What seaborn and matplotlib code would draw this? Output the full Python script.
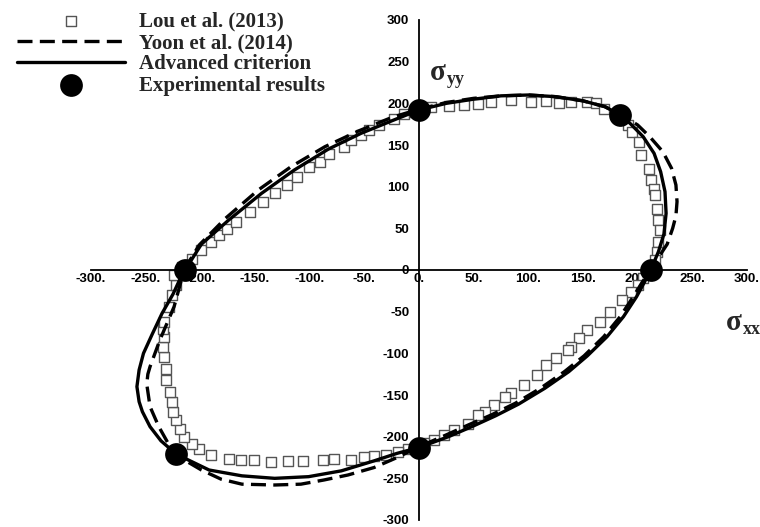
import numpy as np
import pandas as pd
import matplotlib
matplotlib.use("Agg")
import matplotlib.pyplot as plt
import seaborn as sns
from matplotlib.ticker import MultipleLocator, FuncFormatter

# ---------------- data ----------------
lou_x = [-217, -208, -199, -190, -183, -176, -167, -155, -143, -132, -121, -112, -101, -91, -82, -69, -62, -53, -46, -37, -23, -14, -5,
         11, 27, 41, 54, 66, 84, 102, 116, 128, 139, 154, 162, 169,
         191, 195, 201, 203, 210, 212, 215, 216, 218, 219, 220, 219, 218, 216,
         205, 200, 194, 186, 175, 166, 154, 146, 139, 136, 125, 116, 108, 96, 84, 79, 69, 60, 54, 45, 32, 23, 14, 5,
         -10, -19, -30, -41, -50, -62, -78, -88, -106, -120, -135, -151, -163, -174, -190, -201, -208,
         -215, -219, -222, -225, -226, -228, -231, -231, -233, -234, -233, -234, -233, -229, -226, -222, -224]
lou_y = [4, 13, 24, 34, 42, 49, 58, 70, 82, 92, 102, 112, 124, 130, 139, 148, 156, 162, 168, 174, 181, 187, 190,
         196, 197, 198, 199, 202, 204, 202, 203, 200, 202, 202, 200, 193,
         174, 166, 154, 138, 121, 108, 97, 90, 73, 60, 48, 34, 22, 12,
         -10, -18, -26, -36, -50, -62, -72, -82, -92, -96, -106, -114, -126, -138, -148, -152, -162, -170, -174, -185, -192, -198, -204, -208,
         -215, -218, -222, -223, -224, -228, -227, -228, -229, -229, -230, -228, -228, -227, -222, -215, -209,
         -200, -191, -180, -170, -158, -146, -132, -119, -104, -92, -80, -71, -62, -44, -30, -18, -6]

yoon_x = [-215, -201, -177, -147, -117, -86, -55, -25, 0,
          25, 50, 75, 100, 125, 150, 170, 184,
          200, 211, 223, 231, 235, 236, 235, 232, 227, 221, 214, 212,
          204, 196, 184, 169, 151, 133, 111, 88, 66, 45, 23, 0,
          -20, -41, -65, -87, -108, -132, -162, -181, -199, -212, -220,
          -229, -238, -246, -249, -248, -246, -237, -224, -219, -215]
yoon_y = [0, 30, 62, 96, 124, 148, 167, 183, 193,
          201, 206, 209, 210, 208, 203, 196, 187,
          174, 160, 142, 122, 102, 82, 65, 50, 31, 19, 5, 0,
          -15, -32, -56, -80, -103, -122, -142, -160, -174, -186, -199, -212,
          -225, -237, -246, -252, -257, -258, -257, -251, -240, -230, -221,
          -209, -188, -164, -137, -125, -116, -84, -44, -20, 0]

adv_x = [-214, -199, -174, -144, -114, -83, -53, -23, 0,
         25, 50, 75, 100, 125, 150, 170, 184,
         193, 205, 215, 221, 225, 226, 224, 219, 212,
         206, 199, 187, 172, 154, 137, 115, 91, 70, 50, 27, 0,
         -20, -41, -71, -101, -132, -162, -192, -222,
         -236, -246, -253, -256, -258, -256, -252, -244, -235, -225, -219, -214]
adv_y = [0, 31, 60, 92, 120, 145, 164, 180, 192,
         200, 205, 209, 210, 208, 203, 196, 186,
         176, 160, 140, 118, 94, 68, 43, 22, 0,
         -15, -32, -56, -80, -103, -122, -142, -161, -175, -187, -200, -213,
         -220, -229, -241, -248, -250, -247, -240, -221,
         -205, -188, -170, -158, -140, -120, -100, -77, -52, -29, -12, 0]

exp_x = [0, 184, 212, -214, -222, 0]
exp_y = [192, 186, 0, 0, -221, -213]

ticks = list(range(-300, 301, 50))

lou = pd.DataFrame({"x": lou_x, "y": lou_y})
yoon = pd.DataFrame({"x": yoon_x, "y": yoon_y})
adv = pd.DataFrame({"x": adv_x, "y": adv_y})
exp = pd.DataFrame({"x": exp_x, "y": exp_y})

# ---------------- figure ----------------
sns.set_theme(style="white")
plt.rcParams["font.family"] = ["Liberation Sans", "DejaVu Sans"]

fig = plt.figure(figsize=(7.6, 5.27), dpi=100)
ax = fig.add_axes([91 / 760, 1 - 520 / 527, (747 - 91) / 760, 500 / 527])

sns.scatterplot(data=lou, x="x", y="y", ax=ax, marker="s", s=48,
                facecolor="white", edgecolor="#555555", linewidth=1.0,
                zorder=2, label="Lou et al. (2013)")
sns.lineplot(data=yoon, x="x", y="y", ax=ax, sort=False, estimator=None,
             color="black", lw=2.4, zorder=3, label="Yoon et al. (2014)")
ax.lines[-1].set_dashes([4.5, 2.2])
sns.lineplot(data=adv, x="x", y="y", ax=ax, sort=False, estimator=None,
             color="black", lw=2.4, zorder=4, label="Advanced criterion")
sns.scatterplot(data=exp, x="x", y="y", ax=ax, marker="o", s=230,
                color="black", edgecolor="black", zorder=5,
                label="Experimental results")

ax.set_xlim(-300, 300)
ax.set_ylim(-300, 300)
ax.set_xlabel("")
ax.set_ylabel("")

for s in ["top", "right"]:
    ax.spines[s].set_visible(False)
for s in ["left", "bottom"]:
    ax.spines[s].set_position(("data", 0))
    ax.spines[s].set_color("black")
    ax.spines[s].set_linewidth(1.3)

ax.set_xticks(ticks)
ax.set_yticks(ticks)
ax.xaxis.set_minor_locator(MultipleLocator(25))
ax.yaxis.set_minor_locator(MultipleLocator(25))
ax.xaxis.set_major_formatter(FuncFormatter(lambda v, p: f"{int(v)}."))
ax.yaxis.set_major_formatter(FuncFormatter(lambda v, p: f"{int(v)}"))
ax.tick_params(axis="x", which="major", direction="in", length=6, width=1.3,
               pad=2, labelsize=9.5, colors="black")
ax.tick_params(axis="x", which="minor", direction="in", length=3.5, width=1)
ax.tick_params(axis="y", which="major", direction="out", length=6, width=1.3,
               pad=1, labelsize=9.5, colors="black")
ax.tick_params(axis="y", which="minor", direction="out", length=3.5, width=1)
for lab in ax.get_xticklabels() + ax.get_yticklabels():
    lab.set_fontweight("bold")

# axis labels
serif = ["Liberation Serif", "DejaVu Serif"]
fig.text(430 / 760, 1 - 72 / 527, "σ", fontsize=21, fontweight="bold",
         family=serif, ha="left", va="center")
fig.text(447 / 760, 1 - 80 / 527, "yy", fontsize=13, fontweight="bold",
         family=serif, ha="left", va="center")
fig.text(726 / 760, 1 - 322 / 527, "σ", fontsize=21, fontweight="bold",
         family=serif, ha="left", va="center")
fig.text(743 / 760, 1 - 330 / 527, "xx", fontsize=13, fontweight="bold",
         family=serif, ha="left", va="center")

leg = ax.legend(loc="upper left", bbox_to_anchor=(0.003, 1.005),
                bbox_transform=fig.transFigure, frameon=False,
                prop={"family": serif, "weight": "bold", "size": 15},
                handlelength=5.2, handletextpad=0.65, labelspacing=0.06,
                borderpad=0.2)

fig.savefig("out.png", dpi=100)
